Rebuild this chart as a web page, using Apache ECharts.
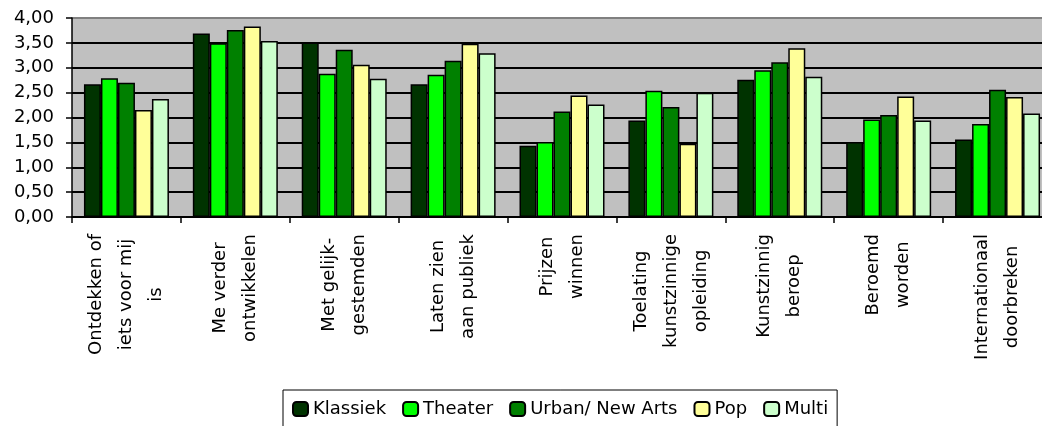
<!DOCTYPE html>
<html>
<head>
<meta charset="utf-8">
<script src="https://cdn.jsdelivr.net/npm/echarts@6/dist/echarts.min.js"></script>
<style>
html,body{margin:0;padding:0;background:#fff;}
#c{width:1042px;height:426px;}
</style>
</head>
<body>
<div id="c"></div>
<script>
const categories = [
  "Ontdekken of\niets voor mij\nis",
  "Me verder\nontwikkelen",
  "Met gelijk-\ngestemden",
  "Laten zien\naan publiek",
  "Prijzen\nwinnen",
  "Toelating\nkunstzinnige\nopleiding",
  "Kunstzinnig\nberoep",
  "Beroemd\nworden",
  "Internationaal\ndoorbreken"
];
const seriesNames = ["Klassiek", "Theater", "Urban/ New Arts", "Pop", "Multi"];
const klassiek = [2.67, 3.69, 3.51, 2.67, 1.43, 1.94, 2.76, 1.51, 1.56];
const theater  = [2.79, 3.49, 2.88, 2.86, 1.51, 2.54, 2.95, 1.96, 1.87];
const urban    = [2.70, 3.76, 3.36, 3.14, 2.12, 2.21, 3.11, 2.05, 2.56];
const pop      = [2.15, 3.83, 3.06, 3.48, 2.44, 1.47, 3.39, 2.42, 2.41];
const multi    = [2.37, 3.54, 2.78, 3.29, 2.26, 2.50, 2.82, 1.94, 2.08];
const colors = ["#003300", "#00FF00", "#008000", "#FFFF99", "#CCFFCC"];

const values = [klassiek, theater, urban, pop, multi];
const FONT = "DejaVu Sans";
const FS = 18;

const chart = echarts.init(document.getElementById('c'), null, {renderer: 'canvas'});
chart.setOption({
  animation: false,
  textStyle: {fontFamily: FONT, color: '#000'},
  grid: {
    left: 72, right: -10, top: 18, bottom: 209,
    show: true, backgroundColor: '#C0C0C0', borderColor: '#808080', borderWidth: 0,
    outerBoundsMode: 'none'
  },
  legend: {
    data: seriesNames,
    left: 283, top: 390,
    padding: [10, 9, 30, 9],
    borderColor: '#000', borderWidth: 1,
    itemWidth: 15, itemHeight: 14, itemGap: 16,
    textStyle: {fontFamily: FONT, fontSize: FS, color: '#000'}
  },
  xAxis: {
    type: 'category',
    data: categories,
    boundaryGap: true,
    axisLine: {lineStyle: {color: '#000', width: 1.5}},
    axisTick: {show: true, length: 6, lineStyle: {color: '#000', width: 1.5}},
    axisLabel: {
      interval: 0, rotate: 90, margin: 17,
      fontFamily: FONT, fontSize: FS, color: '#000',
      formatter: function (v) { return v.split('\n').map(function (l) { return '{c|' + l + '}'; }).join('\n'); },
      rich: {c: {align: 'center', fontFamily: FONT, fontSize: FS, lineHeight: 30, color: '#000'}}
    },
    splitLine: {show: false}
  },
  yAxis: {
    type: 'value', min: 0, max: 4, interval: 0.5,
    axisLine: {show: true, lineStyle: {color: '#000', width: 1.5}},
    axisTick: {show: true, length: 6, lineStyle: {color: '#000', width: 1.5}},
    axisLabel: {
      margin: 18, fontFamily: FONT, fontSize: FS, color: '#000',
      formatter: function (v) { return v.toFixed(2).replace('.', ','); }
    },
    splitLine: {show: true, lineStyle: {color: ['#000', '#000', '#000', '#000', '#000', '#000', '#000', '#000', '#808080'], width: 2}}
  },
  series: seriesNames.map(function (name, i) {
    return {
      name: name, type: 'bar', data: values[i],
      barWidth: 17, barGap: '0%',
      itemStyle: {color: colors[i], borderColor: '#000', borderWidth: 1.5}
    };
  })
});
</script>
</body>
</html>
